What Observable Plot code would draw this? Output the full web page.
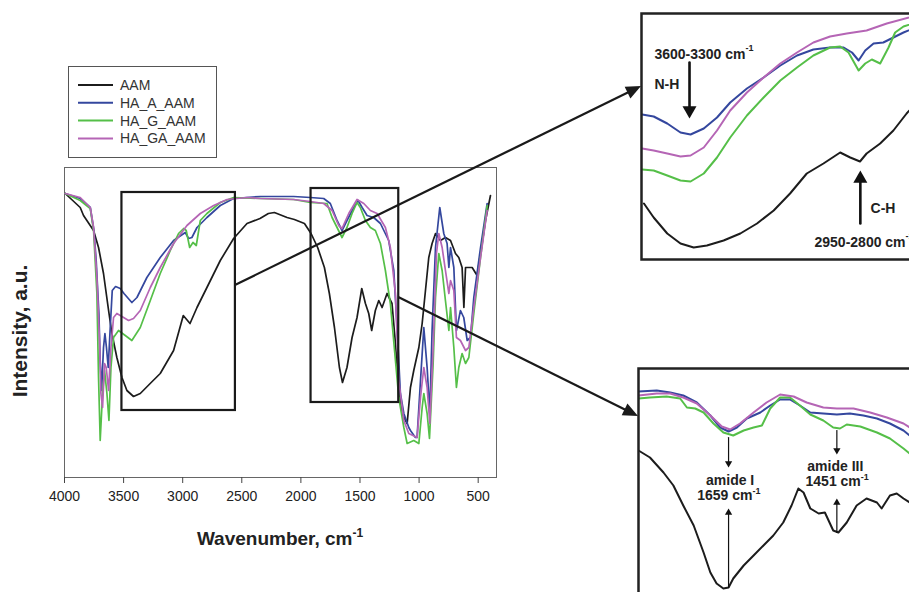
<!DOCTYPE html>
<html><head><meta charset="utf-8">
<script src="https://cdn.jsdelivr.net/npm/d3@7"></script>
<script src="https://cdn.jsdelivr.net/npm/@observablehq/plot@0.6"></script>
<style>
body{margin:0;background:#fff;}
#wrap{position:relative;width:909px;height:592px;overflow:hidden;font-family:"Liberation Sans",Arial,sans-serif;background:#fff;}
</style></head><body><div id="wrap"></div>
<script>
// ---------- DATA ----------
const seriesNames = ["AAM", "HA_A_AAM", "HA_G_AAM", "HA_GA_AAM"];
const seriesColors = ["#1c1c1c", "#34479e", "#55bf48", "#b565b5"];
const xTicks = [4000, 3500, 3000, 2500, 2000, 1500, 1000, 500];

// main panel spectra: [wavenumber, intensity (a.u.)]
const aamMain = [[3994,284],[3867,270],[3839,262],[3754,247],[3712,230],[3670,204],[3627,167],[3599,144],[3557,120],[3514,100],[3472,87],[3416,81],[3359,84],[3275,94],[3190,104],[3077,127],[2995,162],[2938,154],[2879,170],[2795,190],[2682,217],[2569,239],[2456,254],[2346,259],[2275,264],[2224,265],[2117,260],[2055,258],[1970,254],[1914,244],[1858,230],[1801,210],[1759,184],[1716,150],[1674,110],[1648,95],[1610,110],[1567,140],[1525,160],[1485,189],[1454,174],[1426,164],[1401,147],[1370,167],[1341,177],[1313,170],[1271,184],[1229,174],[1200,134],[1172,90],[1144,64],[1101,54],[1073,90],[1045,107],[1002,130],[974,154],[946,187],[918,220],[890,234],[861,244],[819,237],[777,240],[734,237],[692,224],[664,220],[636,210],[621,170],[607,210],[551,210],[509,202],[480,224],[438,257],[396,282]];
const haAMain = [[3994,284],[3867,279],[3782,270],[3751,247],[3732,217],[3709,164],[3698,117],[3686,87],[3670,130],[3658,144],[3645,130],[3630,110],[3613,150],[3596,187],[3568,191],[3528,189],[3497,184],[3430,175],[3387,180],[3303,200],[3190,220],[3077,237],[2978,245],[2950,239],[2922,240],[2879,250],[2795,260],[2682,272],[2569,279],[2343,281],[2061,281],[1920,280],[1807,279],[1751,274],[1694,257],[1652,247],[1610,257],[1553,270],[1516,277],[1482,270],[1440,262],[1384,260],[1327,254],[1257,237],[1214,207],[1186,150],[1158,84],[1129,64],[1087,50],[1073,47],[1031,40],[1017,40],[988,97],[960,150],[932,110],[909,64],[890,147],[861,230],[825,270],[791,244],[763,234],[748,210],[734,230],[706,210],[684,147],[650,167],[622,160],[593,137],[565,140],[537,180],[480,230],[424,274]];
const haGMain = [[3994,284],[3867,277],[3782,269],[3754,247],[3726,184],[3712,100],[3698,37],[3678,84],[3661,107],[3641,84],[3624,57],[3607,110],[3585,140],[3543,147],[3486,142],[3430,137],[3359,150],[3274,177],[3190,204],[3105,227],[3035,244],[2992,249],[2970,247],[2941,230],[2913,235],[2885,232],[2851,257],[2795,264],[2682,275],[2569,280],[2343,279],[2061,278],[1920,275],[1779,274],[1736,260],[1694,250],[1652,240],[1610,250],[1567,264],[1525,275],[1497,270],[1454,257],[1412,250],[1370,247],[1327,234],[1285,207],[1243,174],[1200,117],[1172,80],[1129,50],[1101,34],[1045,37],[1002,34],[974,70],[960,84],[932,64],[912,39],[881,114],[861,180],[833,224],[805,207],[777,177],[748,147],[734,170],[706,130],[684,90],[664,110],[636,124],[607,114],[579,120],[537,164],[480,220],[424,272]];
const haGAMain = [[3994,284],[3867,280],[3782,270],[3754,250],[3726,200],[3703,134],[3692,84],[3678,70],[3661,114],[3647,110],[3627,87],[3607,130],[3585,160],[3557,164],[3500,160],[3458,157],[3416,159],[3359,167],[3274,190],[3190,210],[3077,234],[2964,252],[2851,264],[2738,272],[2625,278],[2456,280],[2343,279],[2061,278],[1920,276],[1807,274],[1736,267],[1680,252],[1652,249],[1595,264],[1525,278],[1468,274],[1412,267],[1355,264],[1285,250],[1243,230],[1200,184],[1172,97],[1129,57],[1087,44],[1017,40],[988,80],[960,110],[932,90],[909,54],[881,130],[853,224],[833,244],[805,230],[777,207],[748,184],[734,197],[706,187],[684,140],[650,137],[607,127],[579,130],[537,170],[480,220],[424,267]];

// top inset (3600-2700 cm-1)
const aamTop = [[3561,56],[3533,42],[3494,26],[3456,16],[3418,12],[3380,14],[3332,19],[3284,26],[3236,36],[3188,49],[3141,66],[3093,86],[3045,96],[2997,107],[2968,102],[2940,98],[2921,106],[2882,116],[2844,129],[2806,146],[2780,156]];
const haATop = [[3566,145],[3533,143],[3494,136],[3456,127],[3427,125],[3389,131],[3351,142],[3313,157],[3265,171],[3217,182],[3169,194],[3121,204],[3074,210],[3026,212],[2987,212],[2963,207],[2944,199],[2925,209],[2901,216],[2873,217],[2844,222],[2815,227],[2780,232]];
const haGTop = [[3566,90],[3533,89],[3494,84],[3456,79],[3427,78],[3389,86],[3351,102],[3313,122],[3265,144],[3217,162],[3169,179],[3121,192],[3074,204],[3026,212],[2997,213],[2973,207],[2944,189],[2925,196],[2906,200],[2882,196],[2858,212],[2839,227],[2815,233],[2780,237]];
const haGATop = [[3566,111],[3533,109],[3494,106],[3456,103],[3427,104],[3389,112],[3351,129],[3313,149],[3265,167],[3217,182],[3169,196],[3121,207],[3074,217],[3026,223],[2978,226],[2921,229],[2863,236],[2799,242],[2780,244]];

// bottom inset (1830-1300 cm-1)
const aamBot = [[1832,170],[1810,163],[1784,148],[1765,135],[1746,115],[1726,95],[1707,68],[1694,48],[1682,37],[1669,32],[1659,33],[1650,42],[1630,55],[1611,65],[1592,75],[1573,85],[1554,98],[1538,115],[1525,132],[1515,128],[1502,112],[1486,107],[1474,108],[1458,90],[1448,88],[1432,98],[1413,115],[1394,122],[1374,118],[1365,112],[1349,125],[1336,127],[1323,122],[1311,118],[1290,115]];
const haABot = [[1832,229],[1797,230],[1771,228],[1746,225],[1720,218],[1694,205],[1675,193],[1659,189],[1643,193],[1624,202],[1598,208],[1579,215],[1560,221],[1541,221],[1522,215],[1502,208],[1477,207],[1451,206],[1426,207],[1400,205],[1374,202],[1349,197],[1323,190],[1311,185],[1290,178]];
const haGBot = [[1832,222],[1810,223],[1778,224],[1752,222],[1739,213],[1723,212],[1707,208],[1688,197],[1669,188],[1650,185],[1630,190],[1611,193],[1595,195],[1579,212],[1560,223],[1541,223],[1522,215],[1502,206],[1477,200],[1458,193],[1445,192],[1432,196],[1406,194],[1374,188],[1349,182],[1323,172],[1311,167],[1290,158]];
const haGABot = [[1832,225],[1797,227],[1771,227],[1746,223],[1720,217],[1694,205],[1672,194],[1656,191],[1637,197],[1611,208],[1586,218],[1560,226],[1534,224],[1509,218],[1477,213],[1451,212],[1419,212],[1387,208],[1355,203],[1323,197],[1311,193],[1290,188]];

// zoom boxes on the main panel
const zoomBoxes = [{x1: 3514, x2: 2554, y1: 67, y2: 285}, {x1: 1914, x2: 1172, y1: 75, y2: 289}];

// annotations
const topLabelsMid = [{wn: 3495, I: 175, t: "N-H"}, {wn: 2874, I: 51, t: "C-H"}];
const topLabelsEnd = [{wn: 3269, I: 205, t: "3600-3300 cm"}, {wn: 2809, I: 17, t: "2950-2800 cm"}];
const topSups = [{wn: 3269, I: 211, t: "-1"}, {wn: 2809, I: 23, t: "-1"}];
const topArrowsDown = [{wn: 3430, from: 197, to: 141}];
const topArrowsUp = [{wn: 2939, from: 36, to: 89}];
const botLabelsMid = [{wn: 1656, I: 140, t: "amide I"}, {wn: 1454, I: 154, t: "amide III"}];
const botLabelsEnd = [{wn: 1613, I: 125, t: "1659 cm"}, {wn: 1405, I: 139, t: "1451 cm"}];
const botSups = [{wn: 1613, I: 129, t: "-1"}, {wn: 1405, I: 143, t: "-1"}];
const botArrowsDown = [{wn: 1659, from: 183, to: 153}, {wn: 1451, from: 190, to: 166}];
const botArrowsUp = [{wn: 1659, from: 33, to: 112}, {wn: 1451, from: 88, to: 122}];

// connectors: from main zoom box edge to inset left edge
const connectors = [
  {fromWn: 2554, fromI: 192, inset: "top", toWn: 3568, toI: 173},
  {fromWn: 1172, fromI: 180, inset: "bot", toWn: 1832, toI: 204}
];

// ---------- BUILD ----------
function rows(list) {
  const out = [];
  list.forEach((arr, i) => arr.forEach(([wn, I]) => out.push({wn, I, s: seriesNames[i]})));
  return out;
}
const mainRows = rows([aamMain, haAMain, haGMain, haGAMain]);
const topRows = rows([aamTop, haATop, haGTop, haGATop]);
const botRows = rows([aamBot, haABot, haGBot, haGABot]);

const wrap = document.getElementById("wrap");
const FONT = "Liberation Sans, Arial, sans-serif";
const colorOpt = {domain: seriesNames, range: seriesColors};
const TXT = "#222";

const mainPlot = Plot.plot({
  width: 909, height: 592,
  marginLeft: 64, marginRight: 413, marginTop: 167, marginBottom: 115,
  x: {domain: [4000, 345]},
  y: {domain: [0, 310], axis: null},
  color: colorOpt,
  style: {fontFamily: FONT, background: "transparent", color: TXT},
  marks: [
    Plot.frame({stroke: "#666", strokeWidth: 1}),
    Plot.axisX({ticks: xTicks, tickSize: 6, tickPadding: 8, fontSize: 14, tickFormat: d => String(d), label: null, stroke: "#444"}),
    Plot.line(mainRows, {x: "wn", y: "I", z: "s", stroke: "s", strokeWidth: 1.7}),
    Plot.rect(zoomBoxes, {x1: "x1", x2: "x2", y1: "y1", y2: "y2", fill: "none", stroke: "#1a1a1a", strokeWidth: 2.2})
  ]
});

function headDots(data, up, r, color) {
  const size = Math.PI * r * r;
  const off = 2 * Math.sqrt(size / (3 * Math.sqrt(3)));
  return Plot.dot(data, {x: "wn", y: "to", symbol: "triangle", r, rotate: up ? 0 : 180, fill: color, stroke: "none", dy: up ? off : -off});
}
function shafts(data, w, inset) {
  return Plot.arrow(data, {x1: "wn", x2: "wn", y1: "from", y2: "to", stroke: "#111", strokeWidth: w, headLength: 0, insetEnd: inset});
}

const topInset = Plot.plot({
  width: 306, height: 250, margin: 2,
  x: {domain: [3568, 2700], axis: null},
  y: {domain: [0, 246], axis: null},
  color: colorOpt,
  style: {fontFamily: FONT, background: "transparent"},
  marks: [
    Plot.line(topRows, {x: "wn", y: "I", z: "s", stroke: "s", strokeWidth: 2, clip: "frame"}),
    shafts(topArrowsDown, 2.6, 6), shafts(topArrowsUp, 2.6, 6),
    headDots(topArrowsDown, false, 5.2, "#111"), headDots(topArrowsUp, true, 5.2, "#111"),
    Plot.text(topLabelsMid, {x: "wn", y: "I", text: "t", fontSize: 14, fontWeight: "bold", fill: TXT}),
    Plot.text(topLabelsEnd, {x: "wn", y: "I", text: "t", fontSize: 14, fontWeight: "bold", fill: TXT, textAnchor: "end"}),
    Plot.text(topSups, {x: "wn", y: "I", text: "t", fontSize: 9, fontWeight: "bold", fill: TXT, textAnchor: "start"}),
    Plot.frame({stroke: "#222", strokeWidth: 2.5})
  ]
});

const botInset = Plot.plot({
  width: 307, height: 256, margin: 2,
  x: {domain: [1832, 1250], axis: null},
  y: {domain: [0, 252], axis: null},
  color: colorOpt,
  style: {fontFamily: FONT, background: "transparent"},
  marks: [
    Plot.line(botRows, {x: "wn", y: "I", z: "s", stroke: "s", strokeWidth: 2, clip: "frame"}),
    shafts(botArrowsDown, 1.2, 3), shafts(botArrowsUp, 1.2, 3),
    headDots(botArrowsDown, false, 2.7, "#111"), headDots(botArrowsUp, true, 2.7, "#111"),
    Plot.text(botLabelsMid, {x: "wn", y: "I", text: "t", fontSize: 14, fontWeight: "bold", fill: TXT}),
    Plot.text(botLabelsEnd, {x: "wn", y: "I", text: "t", fontSize: 14, fontWeight: "bold", fill: TXT, textAnchor: "end"}),
    Plot.text(botSups, {x: "wn", y: "I", text: "t", fontSize: 9, fontWeight: "bold", fill: TXT, textAnchor: "start"}),
    Plot.frame({stroke: "#222", strokeWidth: 2.5})
  ]
});

function place(el, left, top) {
  el.style.position = "absolute";
  el.style.left = left + "px";
  el.style.top = top + "px";
  wrap.appendChild(el);
}
const TOP_POS = [639, 11], BOT_POS = [636, 366];
place(mainPlot, 0, 0);
place(topInset, TOP_POS[0], TOP_POS[1]);
place(botInset, BOT_POS[0], BOT_POS[1]);

// overlay: connectors, axis titles, legend
const svg = d3.select(wrap).append("svg")
  .attr("width", 909).attr("height", 592)
  .style("position", "absolute").style("left", "0px").style("top", "0px")
  .style("font-family", FONT);

const mx = mainPlot.scale("x"), my = mainPlot.scale("y");
const insets = {
  top: {plot: topInset, pos: TOP_POS},
  bot: {plot: botInset, pos: BOT_POS}
};
connectors.forEach(c => {
  const ins = insets[c.inset];
  const x0 = mx.apply(c.fromWn), y0 = my.apply(c.fromI);
  const x1 = ins.pos[0] + ins.plot.scale("x").apply(c.toWn);
  const y1 = ins.pos[1] + ins.plot.scale("y").apply(c.toI);
  const dx = x1 - x0, dy = y1 - y0, L = Math.hypot(dx, dy);
  const ux = dx / L, uy = dy / L, hl = 15, hw = 6.5;
  const bx = x1 - ux * hl, by = y1 - uy * hl;
  svg.append("line").attr("x1", x0).attr("y1", y0).attr("x2", bx + ux * 2).attr("y2", by + uy * 2)
    .attr("stroke", "#1a1a1a").attr("stroke-width", 2.2);
  svg.append("path")
    .attr("d", `M${x1},${y1}L${bx - uy * hw},${by + ux * hw}L${bx + uy * hw},${by - ux * hw}Z`)
    .attr("fill", "#1a1a1a");
});

// axis titles
const xl = svg.append("text").attr("x", 280).attr("y", 545).attr("text-anchor", "middle")
  .attr("font-size", 19).attr("font-weight", "bold").attr("fill", TXT);
xl.append("tspan").text("Wavenumber, cm");
xl.append("tspan").attr("font-size", 12).attr("dy", -8).text("-1");

svg.append("text").attr("transform", "translate(27,331) rotate(-90)").attr("text-anchor", "middle")
  .attr("font-size", 21).attr("font-weight", "bold").attr("fill", TXT).text("Intensity, a.u.");

// legend
const lg = svg.append("g");
lg.append("rect").attr("x", 68.5).attr("y", 66.5).attr("width", 148).attr("height", 91)
  .attr("fill", "#fff").attr("stroke", "#555").attr("stroke-width", 1);
seriesNames.forEach((name, i) => {
  const y = 85 + i * 17.8;
  lg.append("line").attr("x1", 78).attr("x2", 113).attr("y1", y).attr("y2", y)
    .attr("stroke", seriesColors[i]).attr("stroke-width", 2);
  lg.append("text").attr("x", 120).attr("y", y + 5).attr("font-size", 14).attr("fill", "#333").text(name);
});
</script></body></html>
